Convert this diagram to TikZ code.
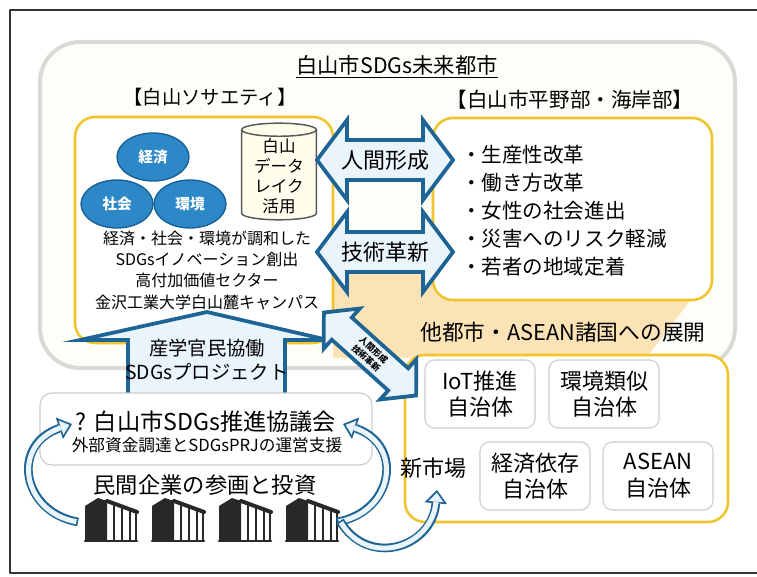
\documentclass[tikz,border=0pt]{standalone}
\usepackage{fontspec}
\setmainfont{Noto Sans CJK JP}
\usetikzlibrary{arrows.meta}
\usetikzlibrary{shapes.geometric}

\definecolor{framegray}{RGB}{218,218,212}
\definecolor{creamfill}{RGB}{254,254,249}
\definecolor{glow}{RGB}{252,227,182}
\definecolor{boxyellow}{RGB}{240,196,44}
\definecolor{arrowblue}{RGB}{30,100,148}
\definecolor{arrowfill}{RGB}{234,244,251}
\definecolor{ballblue}{RGB}{44,136,198}
\definecolor{ballline}{RGB}{25,95,150}
\definecolor{dbfill}{RGB}{255,253,236}
\definecolor{subgray}{RGB}{205,205,205}
\definecolor{bldgdark}{RGB}{40,40,40}

% hollow curved arrow: blue outline, pale inside
\newcommand{\hollowarc}[1]{%
  \draw [arrowblue, line cap=butt, line width=6.5pt, -{Triangle[length=10pt,width=17pt,line width=0pt]}] #1;
  \draw [arrowfill, line cap=butt, line width=3.8pt, shorten <=1.3pt, shorten >=2.1pt, -{Triangle[length=6.6pt,width=11.2pt,line width=0pt]}] #1;}

\begin{document}
\begin{tikzpicture}[line cap=round,line join=round,x=0.75pt,y=-0.75pt,
    yellowbox/.style={draw=boxyellow,line width=1.9pt,fill=white,rounded corners=15pt},
    subbox/.style={draw=subgray,line width=0.8pt,fill=white,rounded corners=7pt,minimum width=82.5pt,minimum height=51pt,align=center,font=\fontsize{16.5}{20}\selectfont},
    ball/.style={ellipse,draw=ballline,line width=1pt,fill=ballblue,text=white,minimum width=54pt,minimum height=36pt,font=\bfseries\fontsize{11}{13}\selectfont},
    dbcyl/.style={cylinder,shape border rotate=90,aspect=0.25,draw=black!65,line width=1.1pt,cylinder uses custom fill,cylinder body fill=dbfill,cylinder end fill=dbfill,minimum width=56pt,minimum height=71pt,align=center,inner sep=1pt,font=\fontsize{12.4}{15}\selectfont},
    bigarrow/.style={draw=arrowblue,line width=2.8pt,fill=arrowfill,line join=miter}]
      \useasboundingbox (0,0) rectangle (757,577);
      \draw [line width=1.1pt,black!80] (757,10)-- (10,10)-- (10,573)-- (757,573);
      % city frame and the warm patch behind the boxes
      \draw [draw=framegray,line width=3pt,fill=creamfill,rounded corners=30pt] (40,42) rectangle (735,368);
      \fill [glow] (333,262)-- (700,262)-- (700,288)-- (646,358)-- (333,358)-- cycle;
      \draw [yellowbox] (75,117) rectangle (333,343);
      \draw [yellowbox] (433,118) rectangle (712,300);
      \draw [yellowbox] (405,355) rectangle (728,522);
      \draw (397,67) node[font=\fontsize{16}{19}\selectfont] (city) {\underline{白山市SDGs未来都市}};
      \draw (210,97) node[font=\fontsize{14.5}{17}\selectfont] (society) {【白山ソサエティ】};
      \draw (570,100) node[font=\fontsize{15.4}{18}\selectfont] (plain) {【白山市平野部・海岸部】};
      % three pillars and the data lake
      \node [ball] (keizai) at (153,157) {経済};
      \node [ball] (shakai) at (117,204) {社会};
      \node [ball] (kankyo) at (190,204) {環境};
      \node [dbcyl] (datalake) at (279,176) {白山\\データ\\レイク\\活用};
      \draw (207,270) node[align=center,font=\fontsize{12}{16}\selectfont] (innov) {経済・社会・環境が調和した\\SDGsイノベーション創出\\高付加価値セクター\\金沢工業大学白山麓キャンパス};
      \draw (461,211) node[anchor=west,inner sep=0pt,align=left,font=\fontsize{15.4}{21}\selectfont] (reform) {・生産性改革\\・働き方改革\\・女性の社会進出\\・災害へのリスク軽減\\・若者の地域定着};
      % two-way arrows between the areas
      \draw [bigarrow] (317,160)-- (347,120)-- (347,140)-- (423,140)-- (423,120)-- (453,160)-- (423,200)-- (423,180)-- (347,180)-- (347,200)-- cycle;
      \draw (385,160) node[font=\fontsize{16.5}{19}\selectfont] (human) {人間形成};
      \draw [bigarrow] (317,252)-- (347,212)-- (347,232)-- (423,232)-- (423,212)-- (453,252)-- (423,292)-- (423,272)-- (347,272)-- (347,292)-- cycle;
      \draw (385,252) node[font=\fontsize{16.5}{19}\selectfont] (tech) {技術革新};
      % project arrow up into the society box
      \draw [bigarrow] (128,396)-- (128,340)-- (80,340)-- (207,312)-- (328,340)-- (285,340)-- (285,396)-- cycle;
      \draw (207,348) node[font=\fontsize{14.5}{17}\selectfont] (sangaku) {産学官民協働};
      \draw (207,372) node[font=\fontsize{14.5}{17}\selectfont] (sdgsprj) {SDGsプロジェクト};
      \draw [draw=subgray,line width=0.9pt,fill=white,rounded corners=9pt] (40,393) rectangle (372,465);
      \draw (206,422) node[font=\fontsize{17.4}{20}\selectfont] (council) {? 白山市SDGs推進協議会};
      \draw (207,445) node[font=\fontsize{12.5}{15}\selectfont] (funding) {外部資金調達とSDGsPRJの運営支援};
      \draw (205,485) node[font=\fontsize{16.7}{19}\selectfont] (private) {民間企業の参画と投資};
      % other cities
      \draw (563,332) node[font=\fontsize{16.3}{19}\selectfont] (expand) {他都市・ASEAN諸国への展開};
      \node [subbox] (iot) at (480,394) {IoT推進\\自治体};
      \node [subbox] (similar) at (604,394) {環境類似\\自治体};
      \node [subbox] (depend) at (535,476) {経済依存\\自治体};
      \node [subbox] (asean) at (658,476) {ASEAN\\自治体};
      \draw (433,468) node[font=\fontsize{16.5}{19}\selectfont] (market) {新市場};
      % diagonal link, 42 degrees down to the right
      \draw [bigarrow] (323.9,312.5)-- (359.9,308.5)-- (351.8,317.5)-- (408.2,368.3)-- (416.3,359.3)-- (416.1,395.5)-- (380.1,399.5)-- (388.2,390.5)-- (331.8,339.7)-- (323.7,348.7)-- cycle;
      \draw (370,354) node[rotate=-42,align=center,inner sep=0pt,font=\bfseries\fontsize{6.5}{8.5}\selectfont] (link) {人間形成\\技術革新};
      % companies
      \foreach \bx in {85,152,219,286} {
        \begin{scope}[shift={(\bx,541)}]
          \fill [bldgdark] (0,0)-- (0,-35)-- (13,-43)-- (22,-40)-- (22,0)-- cycle;
          \draw [bldgdark,line width=3pt] (22,-40)-- (52,-29);
          \draw [bldgdark,line width=1.6pt] (29,-38)-- (29,0) (37,-35)-- (37,0) (45,-32)-- (45,0) (51,-30)-- (51,0);
          \draw [bldgdark,line width=2pt] (0,0)-- (52,0);
        \end{scope}
      }
      \coordinate (ltail) at (78,522);
      \coordinate (lhead) at (72,424);
      \coordinate (rtail) at (337,522);
      \coordinate (rhead) at (343,424);
      \coordinate (utail) at (340,521);
      \coordinate (uhead) at (437,490);
      \hollowarc{(ltail) .. controls (22,512) and (10,445) .. (lhead)}
      \hollowarc{(rtail) .. controls (393,512) and (405,445) .. (rhead)}
      \hollowarc{(utail) .. controls (368,568) and (432,548) .. (uhead)}
\end{tikzpicture}
\end{document}
